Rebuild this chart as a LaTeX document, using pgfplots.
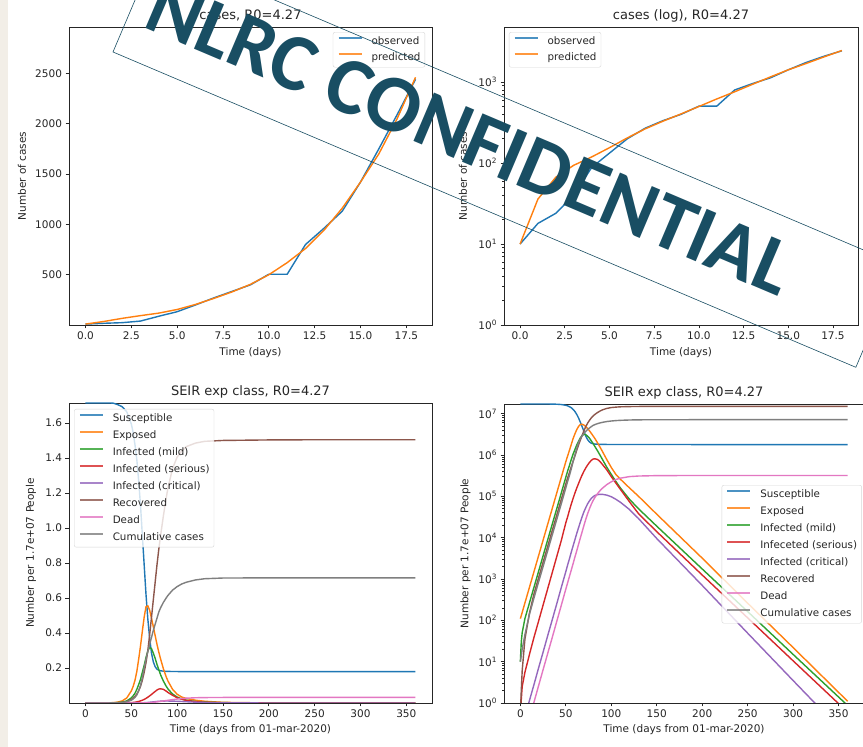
\documentclass[border=0pt]{standalone}
\usepackage{fontspec}
\setmainfont{DejaVu Sans}
\newfontfamily\wmfont{Carlito}
\usepackage{pgfplots}
\usepackage{pgfplotstable}
\pgfplotsset{compat=1.18}
\definecolor{c0}{HTML}{1F77B4}
\definecolor{c1}{HTML}{FF7F0E}
\definecolor{c2}{HTML}{2CA02C}
\definecolor{c3}{HTML}{D62728}
\definecolor{c4}{HTML}{9467BD}
\definecolor{c5}{HTML}{8C564B}
\definecolor{c6}{HTML}{E377C2}
\definecolor{c7}{HTML}{7F7F7F}
\definecolor{wm}{HTML}{194E63}
\definecolor{beige}{HTML}{F2EEE7}
\newcommand{\tfont}{\fontsize{10.5}{12}\selectfont}
\newcommand{\ttlfont}{\fontsize{13}{15}\selectfont}
\newcommand{\lfont}{\fontsize{10.3}{12}\selectfont}

\pgfplotstableread{
d obs pred
0 10 10
1 18 36
2 24 67
3 40 94
4 88 119
5 133 155
6 200 205
7 270 265
8 335 330
9 400 405
10 505 500
11 505 620
12 800 760
13 960 940
14 1130 1160
15 1420 1420
16 1750 1700
17 2090 2050
18 2440 2460
}\cases

\pgfplotstableread{
d S E G Rs C R D Cum
0 1.714e7 110 10 0.5 0.1 0.5 0.05 10
1 1.714e7 130 30 1.2 0.2 2 0.08 14
2 1.714e7 155 50 2.5 0.28 6 0.1 20
5 1.714e7 263 110 5.5 0.47 35 0.17 45
10 1.714e7 631 264 15 1.15 150 0.43 140
15 1.714e7 1514 634 39 2.8 440 1.05 350
20 1.714e7 3631 1520 95 7.0 1060 2.6 840
25 1.714e7 8710 3650 234 17 2550 6.4 2000
30 1.7135e7 20900 8750 575 42 6100 15.6 4800
35 1.705e7 50100 21000 1410 102 14700 38 11500
40 1.693e7 120000 50000 3470 250 35000 94 27500
45 1.664e7 288000 120000 8500 620 84000 230 66000
50 1.594e7 690000 290000 23000 1510 200000 570 160000
52 1.544e7 950000 410000 32000 2190 280000 810 230000
54 1.475e7 1.3e6 560000 46000 3090 380000 1160 320000
56 1.39e7 1.8e6 780000 65000 4470 520000 1650 460000
58 1.27e7 2.5e6 1.05e6 89000 6310 700000 2350 700000
60 1.13e7 3.25e6 1.35e6 120000 8910 950000 3400 1.0e6
62 9.6e6 4.1e6 1.75e6 158000 12600 1.3e6 4800 1.45e6
64 7.9e6 4.9e6 2.15e6 204000 17400 1.75e6 6900 2.0e6
66 6.2e6 5.5e6 2.6e6 263000 24000 2.3e6 9900 2.5e6
68 4.8e6 5.55e6 2.97e6 331000 32400 3.0e6 14000 2.95e6
70 3.7e6 5.3e6 3.18e6 407000 42700 3.9e6 20000 3.35e6
72 2.85e6 4.85e6 3.1e6 490000 53700 4.9e6 28000 3.75e6
74 2.35e6 4.35e6 2.85e6 575000 66100 5.9e6 38000 4.15e6
76 2.07e6 3.85e6 2.55e6 660000 77600 6.9e6 50000 4.5e6
78 1.93e6 3.35e6 2.2e6 740000 89100 7.9e6 64000 4.85e6
80 1.87e6 2.9e6 1.9e6 800000 97700 8.8e6 79000 5.2e6
82 1.84e6 2.5e6 1.6e6 810000 105000 9.6e6 94000 5.45e6
85 1.82e6 1.95e6 1.25e6 780000 110000 1.07e7 117000 5.75e6
88 1.81e6 1.5e6 960000 680000 112000 1.17e7 140000 6.0e6
90 1.805e6 1.25e6 800000 600000 112000 1.23e7 155000 6.15e6
95 1.8e6 780000 510000 440000 107000 1.34e7 192000 6.45e6
100 1.797e6 500000 340000 300000 98000 1.405e7 225000 6.65e6
105 1.795e6 340000 230000 210000 85000 1.44e7 255000 6.8e6
110 1.794e6 260000 160000 148000 72000 1.465e7 275000 6.9e6
120 1.793e6 160000 85000 74000 48000 1.485e7 300000 7.03e6
130 1.792e6 100000 50000 38000 29000 1.495e7 310000 7.1e6
150 1.791e6 37000 19000 14000 9550 1.5e7 317000 7.14e6
200 1.79e6 3200 1750 1250 700 1.503e7 320000 7.15e6
250 1.79e6 260 163 115 49 1.504e7 320000 7.15e6
300 1.79e6 22 15 10.5 3.5 1.504e7 320000 7.15e6
360 1.79e6 1.1 0.87 0.6 0.15 1.504e7 320000 7.15e6
}\seir

\pgfplotsset{
  mplax/.style={
    scale only axis, anchor=south west,
    axis line style={black!85, line width=0.8pt},
    every tick/.style={black!85, line width=0.7pt},
    tick align=outside, major tick length=3.5pt, minor tick length=2pt,
    tick pos=left,
    ticklabel style={font=\tfont, text=black!85},
    /pgf/number format/assume math mode=true,
    every axis title/.style={at={(axis description cs:0.5,1)}, anchor=base, yshift=7.5pt, font=\ttlfont, text=black!85},
    every axis x label/.style={at={(axis description cs:0.5,0)}, anchor=base, yshift=-31pt, font=\tfont, text=black!85},
    every axis plot/.append style={line width=1.4pt},
    legend cell align=left,
    legend image code/.code={\draw[##1, line width=2pt] (0pt,3.5pt) -- (23pt,3.5pt);},
    legend style={draw=black!20, rounded corners=2pt, fill=white, fill opacity=0.8, draw opacity=0.8, text opacity=1,
      inner sep=4.5pt, font=\lfont, text=black!85,
      row sep=7pt, column sep=9pt, nodes={inner sep=0pt, text height=7.6pt, text depth=2.4pt}},
  },
  ylab/.style={every axis y label/.style={at={(axis description cs:0,0.5)}, anchor=center, xshift=-#1, rotate=90, font=\tfont, text=black!85}},
}

\begin{document}
\begin{tikzpicture}[x=1pt,y=1pt]
\useasboundingbox (0,0) rectangle (863,747);
\clip (0,0) rectangle (863,747);
\fill[white] (0,0) rectangle (863,747);
\fill[beige] (0,0) rectangle (8,747);

% top left
\begin{axis}[mplax, ylab=47pt, at={(69pt,422pt)}, width=363pt, height=298pt,
  xmin=-0.9, xmax=18.9, ymin=1, ymax=2960,
  xtick={0,2.5,5,7.5,10,12.5,15,17.5},
  ytick={500,1000,1500,2000,2500},
  xticklabel style={/pgf/number format/.cd, fixed, fixed zerofill, precision=1},
  yticklabel style={/pgf/number format/.cd, fixed, 1000 sep={}},
  title={cases, R0=4.27}, xlabel={Time (days)}, ylabel={Number of cases},
  legend style={at={(0.981,0.983)}, anchor=north east, row sep=6pt}]
\addplot[c0] table[x=d, y=obs] {\cases};
\addplot[c1] table[x=d, y=pred] {\cases};
\legend{observed, predicted}
\end{axis}

% top right
\begin{axis}[mplax, ylab=41pt, at={(504pt,422pt)}, width=354pt, height=298pt,
  ymode=log, xmin=-0.9, xmax=18.9, ymin=1, ymax=4800,
  xtick={0,2.5,5,7.5,10,12.5,15,17.5},
  ytick={1,10,100,1000},
  yticklabels={10\textsuperscript{0},10\textsuperscript{1},10\textsuperscript{2},10\textsuperscript{3}},
  xticklabel style={/pgf/number format/.cd, fixed, fixed zerofill, precision=1},
  title={cases (log), R0=4.27}, xlabel={Time (days)}, ylabel={Number of cases},
  legend style={at={(0.014,0.983)}, anchor=north west, row sep=6pt}]
\addplot[c0] table[x=d, y=obs] {\cases};
\addplot[c1] table[x=d, y=pred] {\cases};
\legend{observed, predicted}
\end{axis}

% bottom left
\begin{axis}[mplax, ylab=38pt, at={(69pt,44pt)}, width=363pt, height=300pt,
  every axis x label/.append style={yshift=1pt},
  xmin=-18, xmax=378, ymin=0.0000001, ymax=1.714,
  xtick={0,50,100,150,200,250,300,350},
  ytick={0.2,0.4,0.6,0.8,1.0,1.2,1.4,1.6},
  yticklabel style={/pgf/number format/.cd, fixed, fixed zerofill, precision=1},
  title={SEIR exp class, R0=4.27}, xlabel={Time (days from 01-mar-2020)}, ylabel={Number per 1.7e+07 People},
  legend style={at={(0.014,0.98)}, anchor=north west}]
\addplot[c0] table[x=d, y expr=\thisrow{S}/1e7] {\seir};
\addplot[c1] table[x=d, y expr=\thisrow{E}/1e7] {\seir};
\addplot[c2] table[x=d, y expr=\thisrow{G}/1e7] {\seir};
\addplot[c3] table[x=d, y expr=\thisrow{Rs}/1e7] {\seir};
\addplot[c4] table[x=d, y expr=\thisrow{C}/1e7] {\seir};
\addplot[c5] table[x=d, y expr=\thisrow{R}/1e7] {\seir};
\addplot[c6] table[x=d, y expr=\thisrow{D}/1e7] {\seir};
\addplot[c7] table[x=d, y expr=\thisrow{Cum}/1e7] {\seir};
\legend{Susceptible, Exposed, Infected (mild), Infeceted (serious), Infected (critical), Recovered, Dead, Cumulative cases}
\node[anchor=base west, font=\tfont, text=black!85, inner sep=0pt] at (rel axis cs:0,1) [yshift=3pt] {1e7};
\end{axis}

% bottom right
\begin{axis}[mplax, ylab=38.5pt, at={(504pt,44pt)}, width=360pt, height=299pt,
  every axis x label/.append style={yshift=1pt},
  ymode=log, xmin=-18, xmax=378, ymin=1, ymax=1.714e7,
  xtick={0,50,100,150,200,250,300,350},
  ytick={1,10,100,1000,10000,100000,1000000,10000000},
  yticklabels={10\textsuperscript{0},10\textsuperscript{1},10\textsuperscript{2},10\textsuperscript{3},10\textsuperscript{4},10\textsuperscript{5},10\textsuperscript{6},10\textsuperscript{7}},
  title={SEIR exp class, R0=4.27}, xlabel={Time (days from 01-mar-2020)}, ylabel={Number per 1.7e+07 People},
  legend style={at={(0.994,0.729)}, anchor=north east}]
\addplot[c0] table[x=d, y=S] {\seir};
\addplot[c1] table[x=d, y=E] {\seir};
\addplot[c2] table[x=d, y=G] {\seir};
\addplot[c3] table[x=d, y=Rs] {\seir};
\addplot[c4] table[x=d, y=C] {\seir};
\addplot[c5] table[x=d, y=R] {\seir};
\addplot[c6] table[x=d, y=D] {\seir};
\addplot[c7] table[x=d, y=Cum] {\seir};
\legend{Susceptible, Exposed, Infected (mild), Infeceted (serious), Infected (critical), Recovered, Dead, Cumulative cases}
\end{axis}

% watermark
\begin{scope}[shift={(113,695)}, rotate=-23]
\draw[wm, line width=0.6pt] (0,0) rectangle (807,111);
\end{scope}
\node[wm, rotate=-23, anchor=base, inner sep=0pt, font={\wmfont\bfseries\fontsize{81}{81}\selectfont}] at (460,585.5) {NLRC CONFIDENTIAL};
\end{tikzpicture}
\end{document}
